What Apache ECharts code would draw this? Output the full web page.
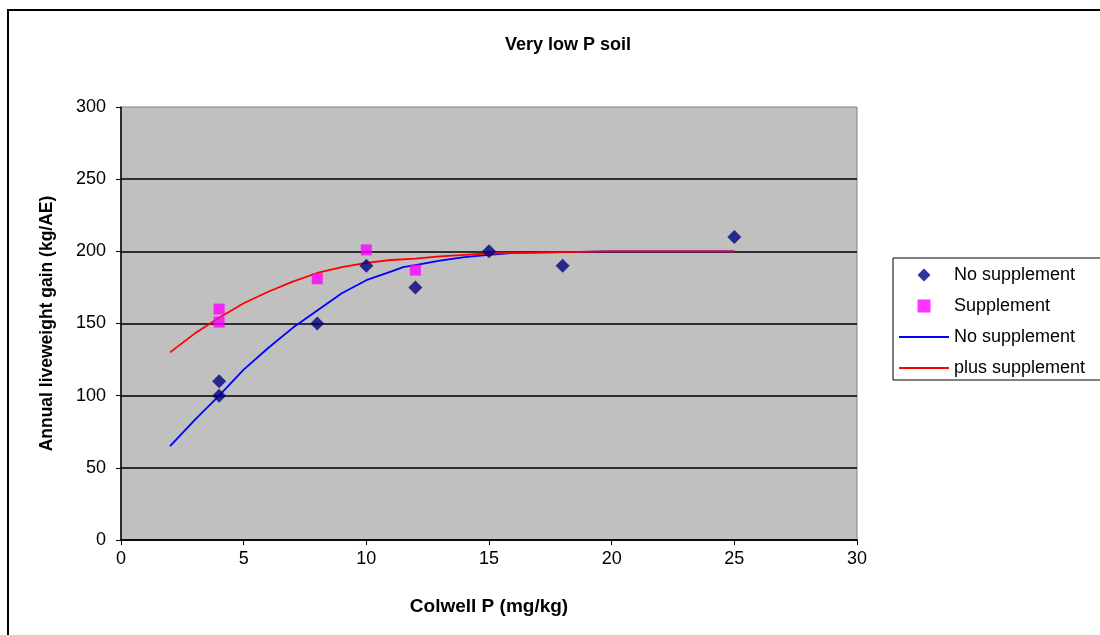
<!DOCTYPE html>
<html>
<head>
<meta charset="utf-8">
<script src="https://cdn.jsdelivr.net/npm/echarts@6/dist/echarts.min.js"></script>
<style>html,body{margin:0;padding:0;background:#fff}#c{width:1100px;height:635px}</style>
</head>
<body>
<div id="c"></div>
<script>
// Observed points
const noSuppPoints = [[4,110],[4,100],[8,150],[10,190],[12,175],[15,200],[18,190],[25,210]];
const suppPoints = [[4,160],[4,151],[8,181],[10,201],[12,187]];
// Fitted response curves
const noSuppCurve = [[2,65],[3,83],[4,100],[5,118],[6,133],[7,147],[8,159],[9,171],[10,180],[11,186],[11.5,189],[12,190.5],[13,193.5],[14,196],[15,197.5],[16,199],[18,199.5],[20,200],[25,200]];
const suppCurve = [[2,130],[3,143],[4,154],[5,164],[6,172],[7,179],[8,185],[9,189],[10,192],[11,194],[12,195],[13,196.5],[14,197.5],[15,198.5],[16,199],[18,199.5],[20,200],[25,200]];
const xTicks = {min:0, max:30, interval:5};
const yTicks = {min:0, max:300, interval:50};

const font = 'Arial, "Liberation Sans", sans-serif';
const lineIcon = 'path://M0,0 L50,0 L50,1.8 L0,1.8 Z';
const chart = echarts.init(document.getElementById('c'));
chart.setOption({
  animation:false,
  title:{text:'Very low P soil', left:563, top:31, textAlign:'center',
    textStyle:{fontFamily:font, fontSize:18, fontWeight:'bold', color:'#000'}},
  graphic:[{type:'rect', shape:{x:8, y:10, width:1200, height:700}, style:{fill:'none', stroke:'#000', lineWidth:2}, silent:true, z:-1}],
  grid:{left:121, top:107, width:736, height:433, show:true, backgroundColor:'#C0C0C0', borderColor:'#808080', borderWidth:1},
  legend:{orient:'vertical', left:893, top:258,
    itemWidth:50, itemHeight:13, itemGap:13, padding:[8,40,3,6],
    borderColor:'#000', borderWidth:1, symbolKeepAspect:true,
    textStyle:{fontFamily:font, fontSize:18, color:'#000'},
    data:[
      {name:'No supplement', icon:'path://M0,-1 L1,0 L0,1 L-1,0 Z'},
      {name:'Supplement', icon:'path://M0,0 L1,0 L1,1 L0,1 Z'},
      {name:'No supplement ', icon:lineIcon},
      {name:'plus supplement', icon:lineIcon}
    ]},
  xAxis:{type:'value', min:xTicks.min, max:xTicks.max, interval:xTicks.interval,
    name:'Colwell P (mg/kg)', nameLocation:'middle', nameGap:57,
    nameTextStyle:{fontFamily:font, fontSize:19, fontWeight:'bold', color:'#000'},
    axisLine:{show:true, lineStyle:{color:'#000', width:1.5}},
    axisTick:{show:true, length:5, lineStyle:{color:'#000'}},
    axisLabel:{fontFamily:font, fontSize:18, color:'#000', margin:10},
    splitLine:{show:false}},
  yAxis:{type:'value', min:yTicks.min, max:yTicks.max, interval:yTicks.interval,
    name:'Annual liveweight gain (kg/AE)', nameLocation:'middle', nameGap:65,
    nameTextStyle:{fontFamily:font, fontSize:17.5, fontWeight:'bold', color:'#000'},
    axisLine:{show:true, lineStyle:{color:'#000', width:1.5}},
    axisTick:{show:true, length:5, lineStyle:{color:'#000'}},
    axisLabel:{fontFamily:font, fontSize:18, color:'#000', margin:15},
    splitLine:{show:true, showMaxLine:false, lineStyle:{color:'#000', width:1.5}}},
  series:[
    {name:'No supplement ', type:'line', data:noSuppCurve, showSymbol:false, symbol:'none', smooth:false,
      lineStyle:{color:'#0000FF', width:1.8}, itemStyle:{color:'#0000FF'}, z:2},
    {name:'plus supplement', type:'line', data:suppCurve, showSymbol:false, symbol:'none', smooth:false,
      lineStyle:{color:'#FF0000', width:1.8}, itemStyle:{color:'#FF0000'}, z:3},
    {name:'No supplement', type:'scatter', data:noSuppPoints, symbol:'diamond', symbolSize:14,
      itemStyle:{color:'#000080'}, z:4},
    {name:'Supplement', type:'scatter', data:suppPoints, symbol:'rect', symbolSize:11,
      itemStyle:{color:'#FF00FF'}, z:5}
  ]
});
</script>
</body>
</html>
